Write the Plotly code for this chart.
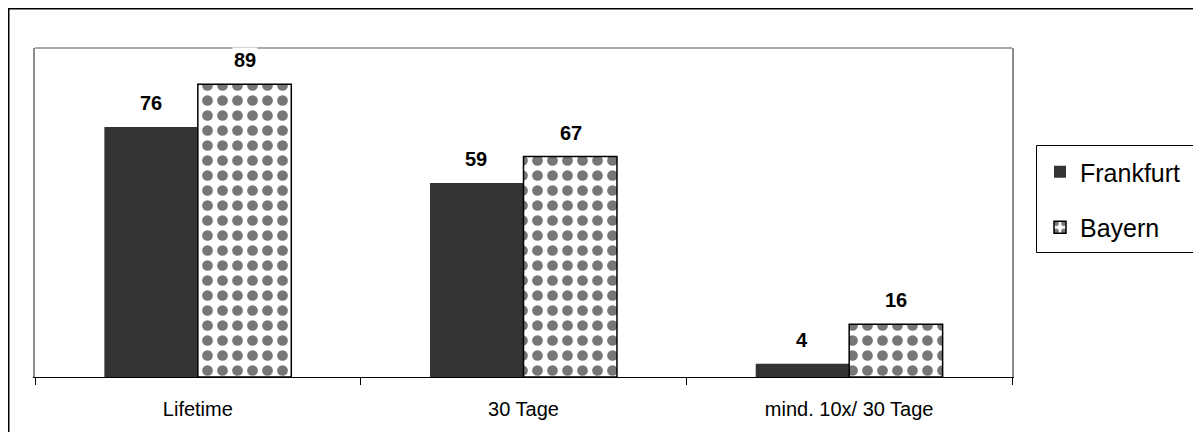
import plotly.graph_objects as go

categories = ["Lifetime", "30 Tage", "mind. 10x/ 30 Tage"]
frankfurt = [76, 59, 4]
bayern = [89, 67, 16]
series_names = ["Frankfurt", "Bayern"]

# page has an 8px body margin: figure pixel = page pixel - 8
OFF = 8
W, H = 1201 - OFF, 432 - OFF
L, T = 35 - OFF, 48 - OFF
R = W - (1012 - OFF)
B = H - (377 - OFF)
pw, ph = W - L - R, H - T - B

def px_x(page_px):
    return (page_px - OFF - L) / pw

def px_y(page_py):
    return (H - B - (page_py - OFF)) / ph

fig = go.Figure()
fig.add_trace(go.Bar(
    name=series_names[0], x=categories, y=frankfurt, legendgroup="a",
    marker=dict(color="#333333", line=dict(color="#333333", width=0)),
))
fig.add_trace(go.Bar(
    name=series_names[1], x=categories, y=bayern, legendgroup="b",
    marker=dict(color="white", line=dict(color="black", width=1.5),
                pattern=dict(shape=".", fgcolor="#767676", bgcolor="white",
                             size=15, solidity=0.4, fillmode="replace")),
))

annotations = []
for i, c in enumerate(categories):
    for vals, off in ((frankfurt, -0.145), (bayern, 0.145)):
        annotations.append(dict(
            x=i + off, y=vals[i], xref="x", yref="y", text=f"<b>{vals[i]}</b>",
            showarrow=False, yanchor="middle", yshift=24, bgcolor="white",
            font=dict(family="Liberation Sans, Arial", size=20, color="black"),
        ))

shapes = [
    # outer chart border
    dict(type="rect", xref="paper", yref="paper",
         x0=px_x(8.75), x1=px_x(1400), y0=px_y(600), y1=px_y(8.75),
         line=dict(color="black", width=1.5), layer="below"),
    # plot area top line
    dict(type="line", xref="paper", yref="paper", x0=0, x1=1, y0=1, y1=1,
         line=dict(color="#8c8c8c", width=1.5), layer="below"),
    # legend box
    dict(type="rect", xref="paper", yref="paper",
         x0=px_x(1036.5), x1=px_x(1300), y0=px_y(252.5), y1=px_y(145.5),
         line=dict(color="black", width=1), layer="below"),
]

fig.update_layout(
    width=W, height=H,
    margin=dict(l=L, r=R, t=T, b=B, autoexpand=False),
    paper_bgcolor="white", plot_bgcolor="white",
    barmode="group", bargap=0.426, bargroupgap=0,
    font=dict(family="Liberation Sans, Arial", color="black"),
    showlegend=True,
    legend=dict(x=px_x(1040), y=px_y(149), xanchor="left", yanchor="top",
                bgcolor="rgba(0,0,0,0)", borderwidth=0,
                font=dict(size=25, family="Liberation Sans, Arial"),
                traceorder="grouped", tracegroupgap=20, itemwidth=30),
    annotations=annotations,
    shapes=shapes,
)
fig.update_xaxes(
    type="category", showline=True, linecolor="black", linewidth=1.2,
    ticks="outside", tickson="boundaries", ticklen=7, tickcolor="black",
    tickfont=dict(size=20, family="Liberation Sans, Arial"),
    showgrid=False, zeroline=False, ticklabelstandoff=14,
)
fig.update_yaxes(
    range=[0, 100], showticklabels=False, showgrid=False, zeroline=False,
    showline=True, mirror=True, linecolor="#8c8c8c", linewidth=1.5, ticks="",
)

fig.write_html("out.html")
